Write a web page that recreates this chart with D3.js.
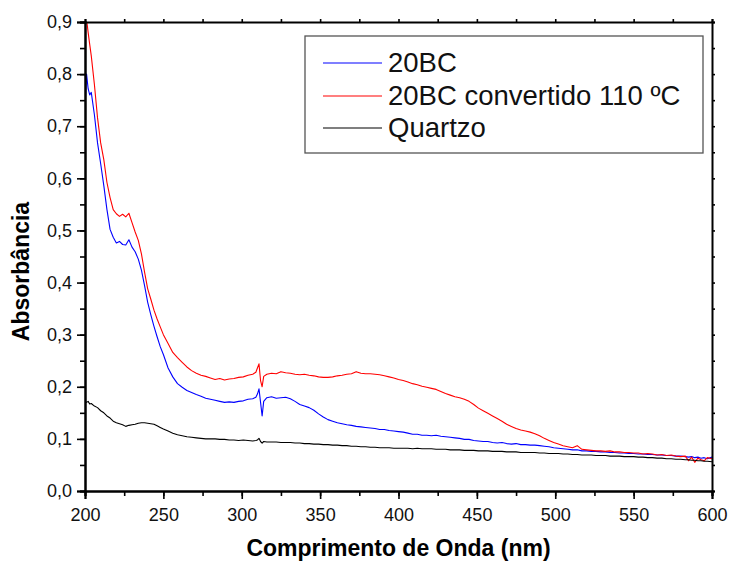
<!DOCTYPE html>
<html>
<head>
<meta charset="utf-8">
<script src="https://cdn.jsdelivr.net/npm/d3@7"></script>
<style>
  body { margin: 0; background: #fff; }
  text { font-family: "Liberation Sans", Arial, sans-serif; }
</style>
</head>
<body>
<svg id="uv_chart" width="729" height="563"></svg>
<script>
/*
 * UV-Vis absorbance spectra: 20BC, 20BC converted at 110 C and the quartz blank.
 */

// Wavelength grid (nm) shared by the three spectra.
var wavelengths = [
  200, 201, 202, 203, 204, 206, 208, 210, 212, 214,
  216, 218, 220, 222, 224, 226, 228, 230, 232, 234,
  236, 238, 240, 242, 244, 246, 248, 250, 253, 256,
  259, 262, 265, 268, 271, 274, 277, 280, 283, 286,
  289, 292, 295, 298, 301, 304, 307, 309, 310, 311,
  312, 313, 314, 316, 319, 322, 325, 328, 331, 334,
  337, 340, 343, 346, 349, 352, 355, 358, 361, 364,
  367, 370, 373, 376, 379, 382, 385, 388, 391, 394,
  397, 400, 403, 406, 409, 412, 415, 418, 421, 424,
  427, 430, 433, 436, 439, 442, 445, 448, 451, 454,
  457, 460, 463, 466, 469, 472, 475, 478, 481, 484,
  487, 490, 493, 496, 499, 502, 505, 508, 511, 514,
  517, 520, 523, 526, 529, 532, 535, 538, 541, 544,
  547, 550, 553, 556, 559, 562, 565, 568, 571, 574,
  577, 580, 583, 585, 587, 589, 591, 593, 595, 597,
  600
];

var abs20BC = [
  0.735, 0.800, 0.772, 0.760, 0.765, 0.722, 0.668, 0.628, 0.586, 0.540,
  0.502, 0.487, 0.476, 0.479, 0.473, 0.472, 0.482, 0.468, 0.459, 0.445,
  0.424, 0.394, 0.362, 0.338, 0.316, 0.296, 0.277, 0.262, 0.236, 0.219,
  0.206, 0.199, 0.193, 0.189, 0.185, 0.182, 0.178, 0.176, 0.174, 0.172,
  0.170, 0.171, 0.170, 0.172, 0.173, 0.176, 0.177, 0.180, 0.186, 0.196,
  0.170, 0.144, 0.172, 0.179, 0.181, 0.178, 0.179, 0.180, 0.177, 0.172,
  0.166, 0.163, 0.160, 0.155, 0.148, 0.142, 0.137, 0.134, 0.131, 0.129,
  0.127, 0.126, 0.124, 0.123, 0.122, 0.121, 0.120, 0.118, 0.118, 0.116,
  0.115, 0.114, 0.113, 0.111, 0.109, 0.109, 0.107, 0.107, 0.106, 0.107,
  0.105, 0.104, 0.103, 0.102, 0.101, 0.099, 0.099, 0.097, 0.096, 0.095,
  0.095, 0.093, 0.092, 0.093, 0.091, 0.090, 0.091, 0.089, 0.089, 0.088,
  0.088, 0.087, 0.086, 0.085, 0.083, 0.082, 0.081, 0.080, 0.079, 0.079,
  0.077, 0.077, 0.076, 0.076, 0.075, 0.075, 0.074, 0.074, 0.073, 0.073,
  0.072, 0.072, 0.071, 0.071, 0.070, 0.070, 0.069, 0.069, 0.068, 0.068,
  0.067, 0.067, 0.066, 0.065, 0.066, 0.064, 0.065, 0.063, 0.064, 0.062,
  0.065
];

var abs20BC110 = [
  0.925, 0.905, 0.880, 0.857, 0.835, 0.780, 0.716, 0.668, 0.636, 0.592,
  0.563, 0.540, 0.532, 0.527, 0.531, 0.526, 0.533, 0.515, 0.497, 0.481,
  0.455, 0.420, 0.388, 0.368, 0.347, 0.330, 0.315, 0.300, 0.283, 0.266,
  0.256, 0.247, 0.238, 0.231, 0.226, 0.222, 0.220, 0.217, 0.214, 0.216,
  0.213, 0.215, 0.216, 0.218, 0.219, 0.222, 0.224, 0.228, 0.236, 0.244,
  0.212, 0.200, 0.220, 0.224, 0.226, 0.225, 0.229, 0.227, 0.226, 0.224,
  0.223, 0.224, 0.222, 0.221, 0.219, 0.218, 0.218, 0.219, 0.221, 0.222,
  0.224, 0.225, 0.229, 0.226, 0.225, 0.225, 0.224, 0.223, 0.221, 0.219,
  0.217, 0.214, 0.212, 0.209, 0.206, 0.204, 0.201, 0.199, 0.197, 0.195,
  0.191, 0.187, 0.184, 0.181, 0.179, 0.176, 0.172, 0.166, 0.159, 0.154,
  0.149, 0.144, 0.139, 0.134, 0.128, 0.124, 0.120, 0.117, 0.115, 0.113,
  0.110, 0.106, 0.101, 0.097, 0.093, 0.090, 0.087, 0.085, 0.083, 0.087,
  0.080, 0.079, 0.078, 0.077, 0.077, 0.076, 0.077, 0.075, 0.075, 0.074,
  0.074, 0.073, 0.073, 0.071, 0.072, 0.071, 0.069, 0.070, 0.068, 0.069,
  0.067, 0.066, 0.067, 0.058, 0.065, 0.055, 0.063, 0.060, 0.058, 0.064,
  0.062
];

var absQuartz = [
  0.173, 0.170, 0.172, 0.167, 0.168, 0.163, 0.160, 0.154, 0.150, 0.144,
  0.140, 0.134, 0.131, 0.129, 0.127, 0.124, 0.126, 0.127, 0.128, 0.130,
  0.131, 0.131, 0.130, 0.129, 0.128, 0.125, 0.122, 0.119, 0.115, 0.111,
  0.108, 0.106, 0.104, 0.103, 0.102, 0.101, 0.100, 0.100, 0.100, 0.099,
  0.099, 0.098, 0.098, 0.097, 0.098, 0.097, 0.096, 0.097, 0.098, 0.101,
  0.095, 0.092, 0.095, 0.094, 0.094, 0.094, 0.093, 0.093, 0.093, 0.092,
  0.092, 0.091, 0.091, 0.090, 0.090, 0.089, 0.089, 0.088, 0.088, 0.087,
  0.087, 0.086, 0.086, 0.085, 0.085, 0.084, 0.084, 0.083, 0.083, 0.083,
  0.082, 0.082, 0.082, 0.082, 0.081, 0.082, 0.081, 0.081, 0.081, 0.080,
  0.080, 0.080, 0.079, 0.079, 0.079, 0.078, 0.078, 0.078, 0.077, 0.077,
  0.077, 0.076, 0.076, 0.076, 0.075, 0.075, 0.075, 0.074, 0.074, 0.074,
  0.074, 0.073, 0.073, 0.072, 0.072, 0.072, 0.071, 0.071, 0.070, 0.070,
  0.069, 0.069, 0.069, 0.068, 0.068, 0.068, 0.067, 0.067, 0.067, 0.066,
  0.066, 0.066, 0.065, 0.065, 0.064, 0.064, 0.063, 0.063, 0.062, 0.062,
  0.061, 0.061, 0.060, 0.060, 0.059, 0.059, 0.058, 0.058, 0.057, 0.057,
  0.056
];

var seriesNames = ['20BC', '20BC convertido 110 \u00baC', 'Quartzo'];
var seriesColors = ['#0000ff', '#ff0000', '#000000'];
var xTicks = [200, 250, 300, 350, 400, 450, 500, 550, 600];
var yTicks = [0.0, 0.1, 0.2, 0.3, 0.4, 0.5, 0.6, 0.7, 0.8, 0.9];

function zipSeries(values) {
  /* Pair each absorbance value with its wavelength. */
  'use strict';
  return values.map(function(v, i) {
    return { nm: wavelengths[i], a: v };
  });
}

function renderChart(element) {
  'use strict';
  var svg = d3.select('#' + element),
    margin = {top: 22, right: 17, bottom: 72, left: 85},
    width = +svg.attr('width') - margin.left - margin.right,
    height = +svg.attr('height') - margin.top - margin.bottom;

  var x = d3.scaleLinear().domain([200, 600]).range([0, width]);
  var y = d3.scaleLinear().domain([0, 0.9]).range([height, 0]);

  var g = svg.append('g')
    .attr('transform', 'translate(' + margin.left + ', ' + margin.top + ')');

  g.append('clipPath')
    .attr('id', 'plot_clip')
    .append('rect')
      .attr('width', width)
      .attr('height', height);

  // The three spectra
  var line = d3.line()
    .x(function(d) { return x(d.nm); })
    .y(function(d) { return y(d.a); });

  var allSeries = [abs20BC, abs20BC110, absQuartz];
  allSeries.forEach(function(values, k) {
    g.append('path')
      .datum(zipSeries(values))
      .attr('clip-path', 'url(#plot_clip)')
      .attr('fill', 'none')
      .attr('stroke', seriesColors[k])
      .attr('stroke-width', 1.1)
      .attr('stroke-linejoin', 'round')
      .attr('d', line);
  });

  var minorX = d3.range(200, 601, 25);
  var minorY = d3.range(0, 0.91, 0.05);

  // Minor ticks first (no labels), then the labelled major axes.
  g.append('g')
    .attr('transform', 'translate(0, ' + height + ')')
    .call(d3.axisBottom(x).tickValues(minorX).tickSize(5).tickFormat(''));
  g.append('g')
    .call(d3.axisLeft(y).tickValues(minorY).tickSize(5).tickFormat(''));
  g.append('g')
    .call(d3.axisTop(x).tickValues(minorX).tickSize(3).tickFormat(''));
  g.append('g')
    .attr('transform', 'translate(' + width + ', 0)')
    .call(d3.axisRight(y).tickValues(minorY).tickSize(3).tickFormat(''));

  var xAxis = g.append('g')
    .attr('transform', 'translate(0, ' + height + ')')
    .call(d3.axisBottom(x).tickValues(xTicks).tickSize(8).tickPadding(9)
      .tickFormat(d3.format('d')));
  var yAxis = g.append('g')
    .call(d3.axisLeft(y).tickValues(yTicks).tickSize(8).tickPadding(5)
      .tickFormat(function(d) { return d3.format('.1f')(d).replace('.', ','); }));

  g.selectAll('.domain').attr('stroke-width', 2).attr('stroke', '#000');
  g.selectAll('.tick line').attr('stroke-width', 1.6).attr('stroke', '#000');
  xAxis.selectAll('text').attr('font-size', 18).attr('fill', '#111')
    .attr('font-family', '"Liberation Sans", Arial, sans-serif');
  yAxis.selectAll('text').attr('font-size', 18).attr('fill', '#111')
    .attr('font-family', '"Liberation Sans", Arial, sans-serif');

  // Axis titles
  svg.append('text')
    .attr('x', margin.left + width / 2)
    .attr('y', 556)
    .attr('text-anchor', 'middle')
    .attr('font-size', 23)
    .attr('font-weight', 'bold')
    .text('Comprimento de Onda (nm)');

  svg.append('text')
    .attr('transform', 'translate(29, ' + (margin.top + height / 2 + 15) + ') rotate(270)')
    .attr('text-anchor', 'middle')
    .attr('font-size', 23)
    .attr('font-weight', 'bold')
    .text('Absorb\u00e2ncia');

  // Legend box
  var legend = svg.append('g').attr('transform', 'translate(305, 36)');
  legend.append('rect')
    .attr('width', 398)
    .attr('height', 117)
    .attr('fill', '#fff')
    .attr('stroke', '#555')
    .attr('stroke-width', 1.3);

  seriesNames.forEach(function(name, i) {
    var rowY = 27 + Math.round(i * 32.5);
    legend.append('line')
      .attr('x1', 18).attr('x2', 77)
      .attr('y1', rowY).attr('y2', rowY)
      .attr('stroke', seriesColors[i])
      .attr('stroke-width', 1.2);
    legend.append('text')
      .attr('x', 83)
      .attr('y', rowY + 9)
      .attr('font-size', 27.5)
      .attr('fill', '#111')
      .text(name);
  });
}

renderChart('uv_chart');
</script>
</body>
</html>
